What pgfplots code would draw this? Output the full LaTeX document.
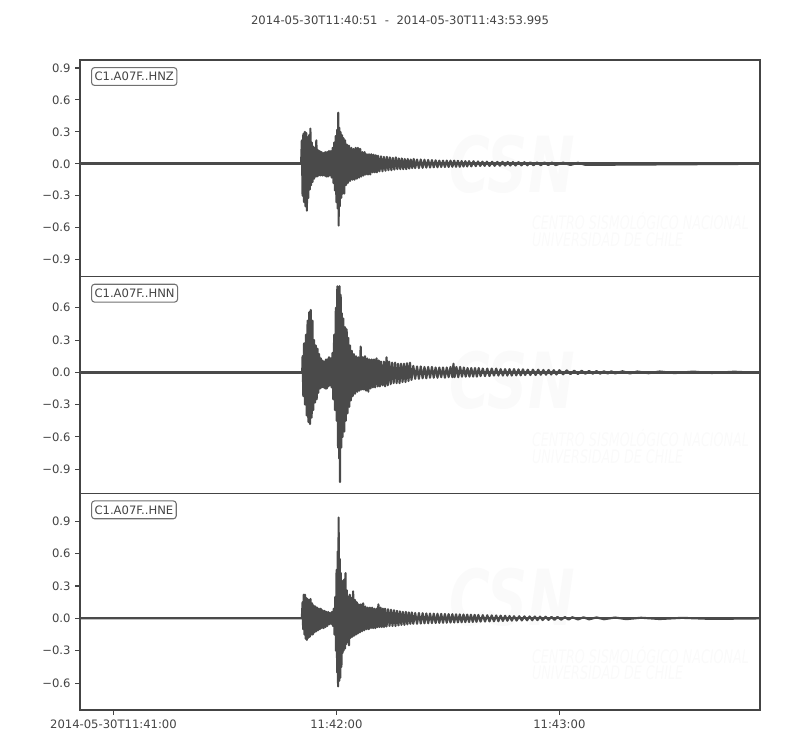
\documentclass[border=0pt]{standalone}
\usepackage{pgfplots}
\pgfplotsset{compat=1.18}
\usepackage{fontspec}
\setmainfont{DejaVu Sans}
\definecolor{tr}{HTML}{4A4A4A}
\definecolor{fg}{HTML}{444444}
\definecolor{bx}{HTML}{707070}
\definecolor{wm}{HTML}{FAFAFA}
\pgfplotsset{seis/.style={
  scale only axis, width=510pt, height=162.5pt, anchor=south west,
  xmin=0, xmax=182.995,
  axis line style={fg, line width=0.8pt},
  tick style={fg, line width=0.8pt}, major tick length=3.6pt, tick align=outside,
  ytick pos=left, xtick pos=bottom,
  ticklabel style={font=\fontsize{8.7}{10}\selectfont, text=fg},
  /pgf/number format/assume math mode=true,
  trace/.style={tr, line width=1.6pt, line join=round},
}}
\newcommand{\watermark}{%
  \node[text=wm, font=\fontsize{58}{58}\selectfont\bfseries\itshape, xscale=0.72] at (rel axis cs:0.635,0.52) {CSN};
  \node[text=wm, anchor=west, font=\fontsize{14}{14}\selectfont\itshape, xscale=0.68] at (rel axis cs:0.66,0.255) {CENTRO SISMOLÓGICO NACIONAL};
  \node[text=wm, anchor=west, font=\fontsize{14}{14}\selectfont\itshape, xscale=0.68] at (rel axis cs:0.66,0.17) {UNIVERSIDAD DE CHILE};
}
\newcommand{\stalabel}[1]{%
  \node[anchor=north west, draw=bx, rounded corners=2.2pt, line width=0.8pt, text=fg, inner xsep=2.2pt, inner ysep=3.4pt, font=\fontsize{8.7}{10}\selectfont] at ([xshift=8.3pt,yshift=-5.3pt]rel axis cs:0,1) {#1};
}
\begin{document}
\begin{tikzpicture}
\path[use as bounding box] (0,0) rectangle (600pt,562.5pt);
\node[text=fg, font=\fontsize{8.7}{10}\selectfont] at (300pt,547.5pt) {2014-05-30T11:40:51\ \ -\ \ 2014-05-30T11:43:53.995};
% ---------- HNZ ----------
\begin{axis}[seis, at={(60pt,355pt)}, ymin=-1.06, ymax=0.975,
  xtick=\empty,
  ytick={-0.9,-0.6,-0.3,0,0.3,0.6,0.9},
  yticklabels={−0.9,−0.6,−0.3,0.0,0.3,0.6,0.9}]
\watermark
\addplot[tr, line width=2.5pt] coordinates {(0,0) (182.995,0)};
\addplot[trace] coordinates {
(0,0) (59.5,0)
(59.7,0.22) (59.9,-0.30) (60.1,0.28) (60.3,-0.36) (60.5,0.30) (60.7,-0.40) (60.9,0.29) (61.05,-0.44) (61.25,0.25) (61.45,-0.32)
(61.65,0.27) (61.85,-0.24) (62.0,0.33) (62.2,-0.20) (62.4,0.20) (62.6,-0.17) (62.8,0.16) (63.0,-0.14) (63.2,0.15) (63.4,-0.12)
(63.6,0.22) (63.8,-0.12) (64.0,0.13) (64.25,-0.11) (64.5,0.12) (64.75,-0.11) (65.0,0.11) (65.25,-0.11) (65.5,0.10) (65.75,-0.11)
(66.0,0.11) (66.25,-0.12) (66.5,0.11) (66.75,-0.12) (67.0,0.12) (67.25,-0.11) (67.5,0.12) (67.75,-0.13) (68.0,0.15) (68.2,-0.18)
(68.4,0.20) (68.6,-0.25) (68.8,0.26) (69.0,-0.36) (69.2,0.32) (69.35,-0.42) (69.5,0.48) (69.6,-0.58) (69.75,0.34) (69.9,-0.40)
(70.1,0.30) (70.3,-0.32) (70.5,0.27) (70.7,-0.28) (70.9,0.24) (71.1,-0.28) (71.35,0.22) (71.6,-0.20) (71.85,0.18) (72.1,-0.18)
(72.4,0.17) (72.7,-0.16) (73.0,0.15) (73.3,-0.15) (73.6,0.14) (73.9,-0.15) (74.2,0.15) (74.5,-0.14) (74.8,0.15) (75.1,-0.13)
(75.4,0.14) (75.7,-0.12) (76.0,0.11) (76.3,-0.11) (76.6,0.11) (76.9,-0.10) (77.2,0.09) (77.5,-0.10) (77.8,0.09) (78.1,-0.10)
(78.4,0.09) (78.7,-0.08) (79.0,0.085) (79.3,-0.08) (79.6,0.08) (79.9,-0.08) (80.2,0.075) (80.6,-0.07) (81.0,0.07) (81.4,-0.07)
(81.8,0.065) (82.2,-0.065) (82.6,0.065) (83.0,-0.06) (83.4,0.06) (83.8,-0.06) (84.2,0.055) (84.6,-0.055) (85.0,0.06) (85.4,-0.05)
(85.8,0.05) (86.2,-0.05) (86.6,0.05) (87.0,-0.05) (87.4,0.045) (87.8,-0.05) (88.2,0.045) (88.6,-0.045) (89.0,0.04) (89.4,-0.04)
(89.8,0.045) (90.2,-0.04) (90.7,0.04) (91.2,-0.04) (91.7,0.04) (92.2,-0.038) (92.7,0.038) (93.2,-0.036) (93.7,0.036) (94.2,-0.035)
(94.7,0.035) (95.2,-0.033) (95.7,0.033) (96.2,-0.032) (96.7,0.03) (97.2,-0.03) (97.7,0.03) (98.2,-0.03) (98.7,0.03) (99.2,-0.03)
(99.7,0.03) (100.2,-0.028) (100.7,0.03) (101.2,-0.028) (101.7,0.028) (102.2,-0.028) (102.7,0.026) (103.2,-0.026) (103.7,0.025) (104.2,-0.025)
(104.7,0.025) (105.3,-0.024) (105.9,0.024) (106.5,-0.022) (107.1,0.022) (107.7,-0.02) (108.3,0.02) (108.9,-0.02) (109.5,0.02) (110.2,-0.02)
(110.9,0.019) (111.6,-0.019) (112.3,0.018) (113,-0.018) (113.7,0.018) (114.4,-0.017) (115.1,0.017) (115.8,-0.016) (116.5,0.016) (117.2,-0.016)
(118,0.015) (118.8,-0.015) (119.6,0.015) (120.4,-0.014) (121.2,0.014) (122,-0.014) (123,0.013) (124,-0.013) (125,0.013) (126,-0.012)
(127,0.012) (128,-0.012) (130,0.011) (132,-0.011) (134,0.01) (136,-0.01) (182.995,0)
};
\stalabel{C1.A07F..HNZ}
\end{axis}
% ---------- HNN ----------
\begin{axis}[seis, at={(60pt,192.5pt)}, ymin=-1.124, ymax=0.889,
  xtick=\empty,
  ytick={-0.9,-0.6,-0.3,0,0.3,0.6},
  yticklabels={−0.9,−0.6,−0.3,0.0,0.3,0.6}]
\watermark
\addplot[tr, line width=2pt] coordinates {(0,0) (182.995,0)};
\addplot[trace] coordinates {
(0,0) (59.8,0)
(59.9,0.15) (60.1,-0.22) (60.3,0.27) (60.55,-0.30) (60.8,0.35) (61.0,-0.40) (61.25,0.48) (61.45,-0.46) (61.7,0.56) (61.9,-0.48)
(62.1,0.58) (62.34,-0.42) (62.55,0.48) (62.79,-0.35) (63.0,0.30) (63.24,-0.28) (63.45,0.25) (63.69,-0.25) (63.9,0.22) (64.14,-0.19)
(64.35,0.17) (64.58,-0.15) (64.8,0.13) (65.05,-0.14) (65.3,0.11) (65.5,-0.14) (65.75,0.10) (66.0,-0.15) (66.2,0.12) (66.4,-0.15)
(66.6,0.12) (66.83,-0.13) (67.0,0.14) (67.27,-0.12) (67.5,0.13) (67.72,-0.14) (67.95,0.18) (68.17,-0.25) (68.4,0.35) (68.62,-0.35)
(68.85,0.60) (69.07,-0.45) (69.25,0.80) (69.45,-0.70) (69.6,0.79) (69.75,-0.80) (69.85,0.80) (69.97,-1.02) (70.15,0.72) (70.3,-0.70)
(70.45,0.55) (70.65,-0.60) (70.86,0.50) (71.1,-0.55) (71.31,0.42) (71.55,-0.45) (71.76,0.40) (72.0,-0.38) (72.21,0.32) (72.45,-0.32)
(72.66,0.25) (72.9,-0.26) (73.15,0.20) (73.4,-0.22) (73.7,0.17) (74.0,-0.20) (74.3,0.15) (74.6,-0.18) (74.9,0.14) (75.2,-0.17)
(75.53,0.24) (75.8,-0.16) (76.1,0.14) (76.4,-0.16) (76.7,0.15) (77.0,-0.17) (77.3,0.13) (77.6,-0.18) (77.9,0.12) (78.2,-0.15)
(78.5,0.12) (78.8,-0.14) (79.1,0.12) (79.4,-0.14) (79.8,0.13) (80.1,-0.13) (80.4,0.11) (80.7,-0.13) (81.0,0.10) (81.4,-0.12)
(81.8,0.10) (82.1,-0.13) (82.5,0.14) (82.8,-0.12) (83.2,0.10) (83.6,-0.11) (84.0,0.09) (84.4,-0.10) (84.8,0.09) (85.2,-0.10)
(85.6,0.08) (86.0,-0.10) (86.4,0.08) (86.8,-0.09) (87.2,0.08) (87.6,-0.09) (88.0,0.085) (88.4,-0.08) (88.8,0.09) (89.2,-0.07)
(89.7,0.06) (90.2,-0.06) (90.7,0.055) (91.2,-0.06) (91.7,0.055) (92.2,-0.055) (92.7,0.05) (93.2,-0.055) (93.7,0.05) (94.2,-0.05)
(94.7,0.05) (95.2,-0.05) (95.7,0.045) (96.2,-0.05) (96.7,0.045) (97.2,-0.045) (97.7,0.045) (98.2,-0.05) (98.7,0.045) (99.2,-0.045)
(99.7,0.05) (100.2,-0.045) (100.5,0.08) (100.8,-0.045) (101.3,0.05) (101.8,-0.045) (102.3,0.05) (102.8,-0.04) (103.3,0.045) (103.8,-0.04)
(104.3,0.04) (104.8,-0.04) (105.3,0.04) (105.8,-0.04) (106.3,0.04) (106.8,-0.04) (107.3,0.04) (107.8,-0.035) (108.4,0.035) (109.0,-0.035)
(109.6,0.035) (110.2,-0.035) (110.8,0.035) (111.4,-0.03) (112,0.035) (112.6,-0.03) (113.2,0.03) (113.8,-0.03) (114.4,0.03) (115,-0.03)
(115.6,0.03) (116.2,-0.03) (116.8,0.03) (117.4,-0.028) (118,0.028) (118.6,-0.028) (119.2,0.028) (119.8,-0.025) (120.5,0.025) (121.2,-0.025)
(121.9,0.025) (122.6,-0.025) (123.3,0.025) (124,-0.022) (124.7,0.022) (125.4,-0.022) (126.1,0.022) (126.8,-0.02) (127.5,0.02) (128.2,-0.02)
(129,0.02) (130,-0.018) (131,0.018) (132,-0.016) (133,0.016) (134,-0.015) (135,0.015) (136,-0.013) (137,0.013) (138,-0.012)
(139,0.012) (140,-0.012) (141,0.011) (142,-0.011) (143,0.01) (144,-0.01) (146,0.01) (148,-0.01) (150,0.008) (153,-0.008)
(156,0.008) (160,-0.007) (165,0.007) (170,-0.006) (176,0.006) (182.995,-0.005)
};
\stalabel{C1.A07F..HNN}
\end{axis}
% ---------- HNE ----------
\begin{axis}[seis, at={(60pt,30pt)}, ymin=-0.849, ymax=1.159,
  xtick={9,69,129},
  xticklabels={2014-05-30T11:41:00,11:42:00,11:43:00},
  ytick={-0.6,-0.3,0,0.3,0.6,0.9},
  yticklabels={−0.6,−0.3,0.0,0.3,0.6,0.9}]
\watermark
\addplot[tr, line width=1.6pt] coordinates {(0,0) (182.995,0)};
\addplot[trace] coordinates {
(0,0) (59.7,0)
(59.9,0.15) (60.05,-0.10) (60.2,0.22) (60.4,-0.15) (60.55,0.22) (60.75,-0.19) (60.9,0.19) (61.05,-0.20) (61.25,0.18) (61.45,-0.18)
(61.65,0.17) (61.85,-0.17) (62.05,0.18) (62.25,-0.15) (62.45,0.14) (62.65,-0.15) (62.85,0.12) (63.05,-0.13) (63.3,0.11) (63.55,-0.12)
(63.8,0.10) (64.05,-0.11) (64.3,0.09) (64.55,-0.10) (64.8,0.09) (65.05,-0.09) (65.3,0.075) (65.55,-0.09) (65.8,0.07) (66.05,-0.08)
(66.3,0.06) (66.55,-0.07) (66.8,0.06) (67.05,-0.055) (67.3,0.05) (67.55,-0.05) (67.8,0.06) (68.05,-0.07) (68.3,0.09) (68.5,-0.15)
(68.7,0.20) (68.9,-0.30) (69.05,0.45) (69.2,-0.50) (69.35,0.62) (69.45,-0.63) (69.6,0.935) (69.75,-0.58) (69.9,0.55) (70.05,-0.55)
(70.2,0.42) (70.35,-0.45) (70.5,0.35) (70.65,-0.32) (70.8,0.30) (70.95,-0.30) (71.1,0.36) (71.3,-0.28) (71.45,0.42) (71.6,-0.24)
(71.8,0.26) (72.0,-0.22) (72.2,0.20) (72.4,-0.25) (72.6,0.22) (72.8,-0.18) (73.0,0.19) (73.25,-0.17) (73.5,0.25) (73.75,-0.16)
(74.0,0.17) (74.25,-0.15) (74.5,0.15) (74.75,-0.14) (75.0,0.13) (75.3,-0.13) (75.6,0.13) (75.9,-0.12) (76.2,0.14) (76.5,-0.11)
(76.8,0.11) (77.1,-0.10) (77.4,0.10) (77.7,-0.10) (78.0,0.10) (78.3,-0.09) (78.6,0.10) (78.9,-0.09) (79.2,0.09) (79.5,-0.09)
(79.8,0.09) (80.05,-0.08) (80.3,0.13) (80.6,-0.08) (80.9,0.10) (81.2,-0.08) (81.5,0.09) (81.8,-0.08) (82.1,0.09) (82.5,-0.075)
(82.9,0.085) (83.3,-0.07) (83.7,0.08) (84.1,-0.07) (84.5,0.075) (84.9,-0.07) (85.3,0.07) (85.7,-0.065) (86.1,0.065) (86.5,-0.06)
(86.9,0.06) (87.3,-0.06) (87.7,0.06) (88.1,-0.055) (88.5,0.055) (88.9,-0.05) (89.3,0.055) (89.7,-0.05) (90.2,0.05) (90.7,-0.05)
(91.2,0.05) (91.7,-0.048) (92.2,0.048) (92.7,-0.046) (93.2,0.046) (93.7,-0.045) (94.2,0.045) (94.7,-0.044) (95.2,0.044) (95.7,-0.043)
(96.2,0.043) (96.7,-0.042) (97.2,0.042) (97.7,-0.041) (98.2,0.041) (98.7,-0.04) (99.2,0.04) (99.7,-0.039) (100.2,0.039) (100.7,-0.038)
(101.2,0.038) (101.7,-0.037) (102.2,0.037) (102.7,-0.036) (103.2,0.036) (103.7,-0.035) (104.2,0.035) (104.7,-0.034) (105.2,0.034) (105.7,-0.033)
(106.2,0.033) (106.7,-0.032) (107.2,0.032) (107.8,-0.03) (108.4,0.03) (109,-0.029) (109.6,0.029) (110.2,-0.028) (110.8,0.028) (111.4,-0.027)
(112,0.027) (112.6,-0.026) (113.2,0.026) (113.8,-0.024) (114.4,0.024) (115,-0.022) (115.6,0.022) (116.2,-0.021) (116.8,0.02) (117.5,-0.02)
(118.2,0.02) (118.9,-0.019) (119.6,0.019) (120.3,-0.018) (121,0.018) (121.7,-0.017) (122.4,0.017) (123.1,-0.016) (123.8,0.016) (124.5,-0.015)
(125.3,0.015) (126.1,-0.014) (126.9,0.014) (127.7,-0.013) (128.5,0.013) (129.5,-0.012) (130.5,0.012) (131.5,-0.011) (132.5,0.011) (134,-0.01)
(135.5,0.01) (137,-0.009) (139,0.009) (141,-0.008) (144,0.008) (147,-0.007) (151,0.006) (156,-0.006) (162,0.005) (170,-0.005) (182.995,0)
};
\stalabel{C1.A07F..HNE}
\end{axis}
\end{tikzpicture}
\end{document}
